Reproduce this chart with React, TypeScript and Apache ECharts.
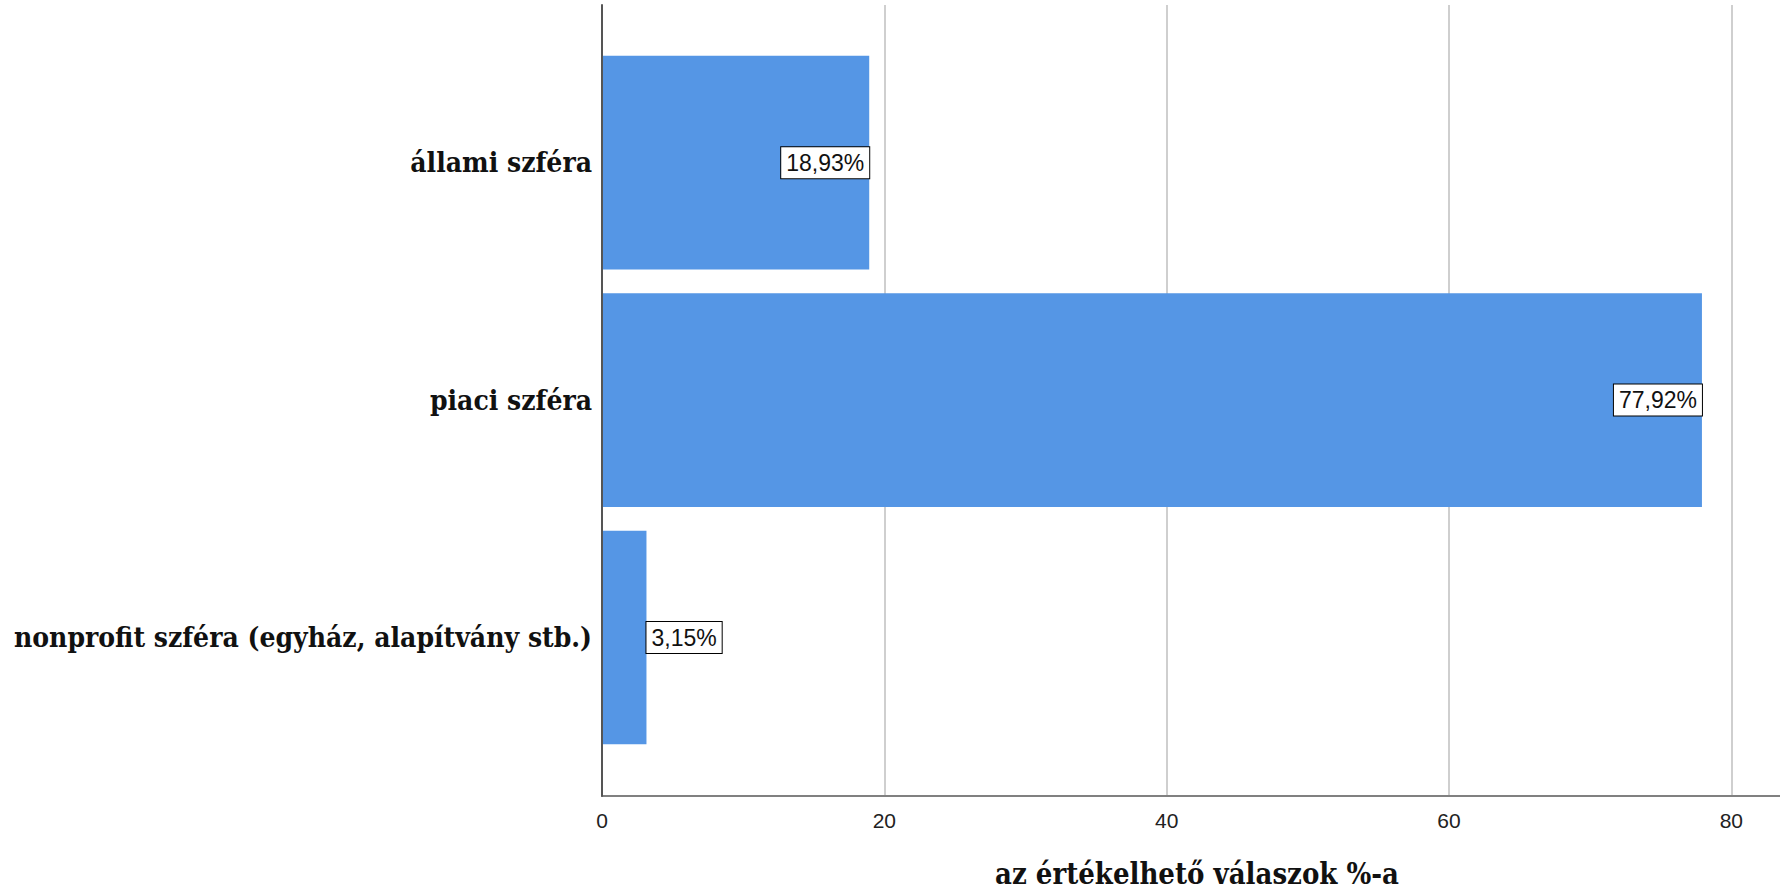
import React, { useEffect, useRef } from "react";
import * as echarts from "echarts";

const categories = [
  "állami szféra",
  "piaci szféra",
  "nonprofit szféra (egyház, alapítvány stb.)",
];
const values = [18.93, 77.92, 3.15];
const xTicks = [0, 20, 40, 60, 80];
const xAxisTitle = "az értékelhető válaszok %-a";

const X_MAX = 84.3;
const SERIF = '"DejaVu Serif Condensed", "DejaVu Serif", "Liberation Serif", serif';
const SANS = '"Liberation Sans", Arial, sans-serif';

export default function App() {
  const ref = useRef<HTMLDivElement>(null);
  useEffect(() => {
    if (!ref.current) return;
    const chart = echarts.init(ref.current, undefined, { renderer: "svg" });
    const fmt = (v: number) => v.toFixed(2).replace(".", ",") + "%";
    chart.setOption({
      animation: false,
      backgroundColor: "#ffffff",
      grid: [
        { left: 602, width: 1190, top: 5, bottom: 99, outerBoundsMode: "none", containLabel: false },
        { left: 602, width: 1190, top: 44, bottom: 138.8, outerBoundsMode: "none", containLabel: false },
      ],
      xAxis: [
        {
          type: "value",
          gridIndex: 0,
          min: 0,
          max: X_MAX,
          interval: xTicks[1] - xTicks[0],
          axisLine: { show: true, lineStyle: { color: "#808080", width: 2 } },
          axisTick: { show: false },
          splitLine: { show: true, lineStyle: { color: "#cfcfcf", width: 2 } },
          axisLabel: {
            fontSize: 21,
            color: "#222",
            fontFamily: SANS,
            margin: 14,
            showMaxLabel: false,
            formatter: (v: number) => (xTicks.includes(v) ? String(v) : ""),
          },
          name: xAxisTitle,
          nameLocation: "middle",
          nameGap: 63,
          nameTextStyle: {
            fontSize: 29,
            fontWeight: "bold",
            fontFamily: SERIF,
            color: "#111",
          },
        },
        {
          type: "value",
          gridIndex: 1,
          min: 0,
          max: X_MAX,
          show: false,
        },
      ],
      yAxis: [
        {
          type: "value",
          gridIndex: 0,
          min: 0,
          max: 1,
          z: 5,
          axisLine: { show: true, lineStyle: { color: "#555", width: 2 } },
          axisTick: { show: false },
          axisLabel: { show: false },
          splitLine: { show: false },
        },
        {
          type: "category",
          gridIndex: 1,
          inverse: true,
          data: categories,
          axisLine: { show: false },
          axisTick: { show: false },
          splitLine: { show: false },
          axisLabel: {
            fontSize: 28,
            fontWeight: "bold",
            fontFamily: SERIF,
            color: "#111",
            margin: 10,
          },
        },
      ],
      series: [
        {
          type: "bar",
          xAxisIndex: 1,
          yAxisIndex: 1,
          barCategoryGap: "10%",
          itemStyle: { color: "#5596e5" },
          data: values.map((v) => ({
            value: v,
            label: {
              show: true,
              position: v < 10 ? "right" : "insideRight",
              distance: 0,
              formatter: () => fmt(v),
              backgroundColor: "#ffffff",
              borderColor: "#000",
              borderWidth: 1,
              padding: [4, 5],
              fontSize: 23,
              fontFamily: SANS,
              color: "#111",
            },
          })),
        },
      ],
    });
    return () => chart.dispose();
  }, []);
  return (
    <div
      ref={ref}
      style={{ position: "fixed", left: 0, top: 0, width: 1780, height: 895 }}
    />
  );
}
